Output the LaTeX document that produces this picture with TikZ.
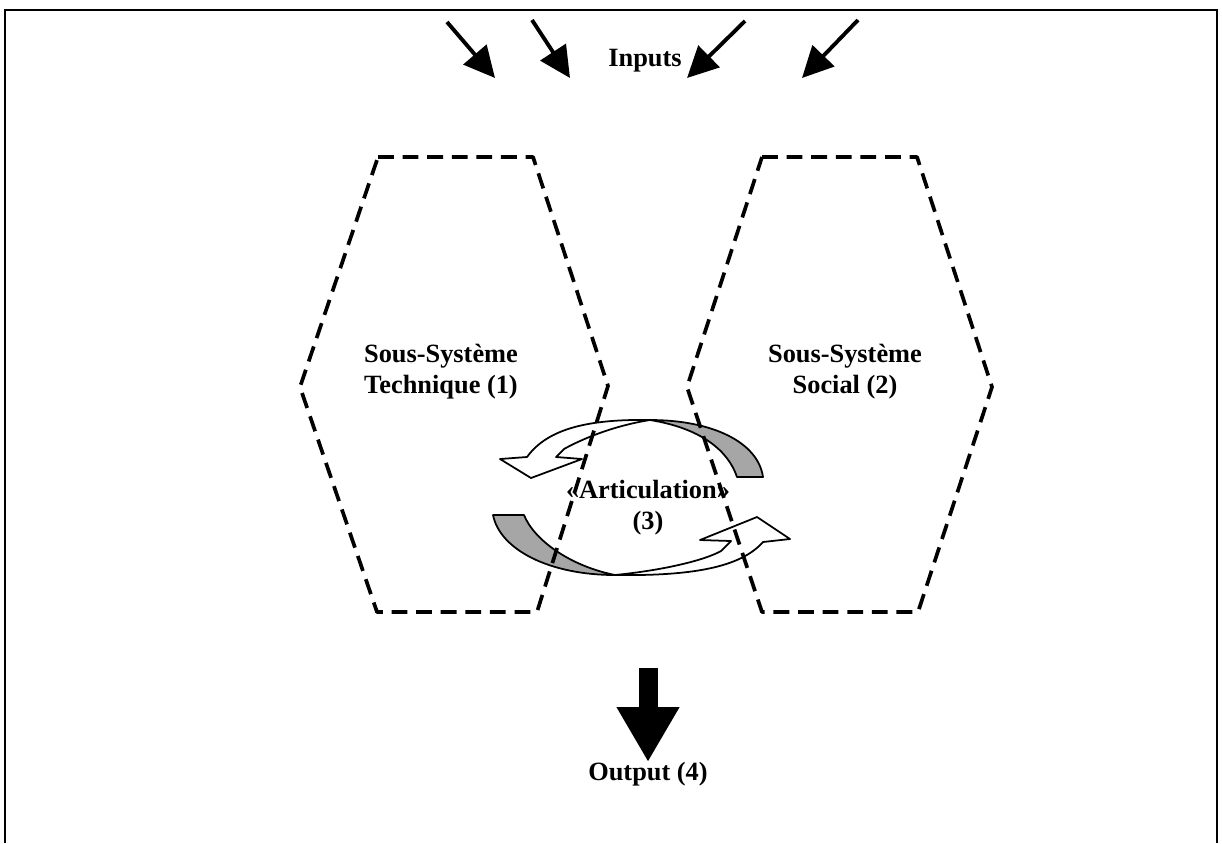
\documentclass[tikz,border=0pt]{standalone}
\usepackage{fontspec}
\setmainfont{Liberation Serif}
\usetikzlibrary{arrows.meta,positioning}

\begin{document}
\begin{tikzpicture}[x=0.02cm,y=-0.02cm,
                    txt/.style={font=\fontsize{15}{17.6}\selectfont\bfseries,align=center,inner sep=0pt},
                    hexa/.style={draw,line width=2.1pt,dash pattern=on 9pt off 5pt,line join=round},
                    in arrow/.style={line width=2.2pt,-{Triangle[length=0.62cm,width=0.6cm]}},
                    out arrow/.style={line width=0.38cm,-{Triangle[length=1.1cm,width=1.18cm]}},
                    band/.style={draw,line width=1pt,fill=white,line join=round},
                    tail/.style={draw,line width=1pt,fill=black!35,line join=round}]

  \useasboundingbox (0,0) rectangle (1222,843);
  \draw[line width=1.2pt] (5,843) -- (5,10) -- (1217,10) -- (1217,843);

  % inputs
  \coordinate (s1) at (447,22);  \coordinate (e1) at (495,78);
  \coordinate (s2) at (532,20);  \coordinate (e2) at (570,78);
  \coordinate (s3) at (745,21);  \coordinate (e3) at (687,78);
  \coordinate (s4) at (858,20);  \coordinate (e4) at (802,78);
  \node[txt] (inputs) at (645,61) {Inputs};
  \foreach \i in {1,...,4}
    \draw[in arrow] (s\i) -- (e\i);

  % articulation arrows
  \draw[band] (500,459) -- (527,457) .. controls (548,428) and (590,419) .. (650,420)
    .. controls (612,426) and (580,440) .. (564,449) -- (556,457) -- (582,459) -- (531,478) -- cycle;
  \draw[tail] (650,420) .. controls (712,420) and (758,442) .. (763,477) -- (737,477)
    .. controls (728,450) and (700,428) .. (650,420) -- cycle;
  \draw[band] (790,539) -- (763,542) .. controls (740,568) and (690,576) .. (615,575)
    .. controls (665,570) and (705,560) .. (721,551) -- (731,541) -- (700,540) -- (757,517) -- cycle;
  \draw[tail] (615,575) .. controls (550,575) and (500,550) .. (493,515) -- (524,515)
    .. controls (534,540) and (570,566) .. (615,575) -- cycle;

  % sub-systems
  \draw[hexa] (378,157) -- (533,157) -- (608,386) -- (537,612) -- (377,612) -- (300,387) -- cycle;
  \draw[hexa] (762,157) -- (917,157) -- (992,387) -- (918,612) -- (762,612) -- (687,387) -- cycle;

  \node[txt] (tech) at (441,372) {Sous-Système\\Technique (1)};
  \node[txt] (social) at (845,372) {Sous-Système\\Social (2)};
  \node[txt] (artic) at (648,508) {«Articulation»\\(3)};

  % output
  \node[txt,anchor=north] (output) at (648,762) {Output (4)};
  \coordinate (otop) at (648,668);
  \draw[out arrow] (otop) -- (output.north);
\end{tikzpicture}
\end{document}
